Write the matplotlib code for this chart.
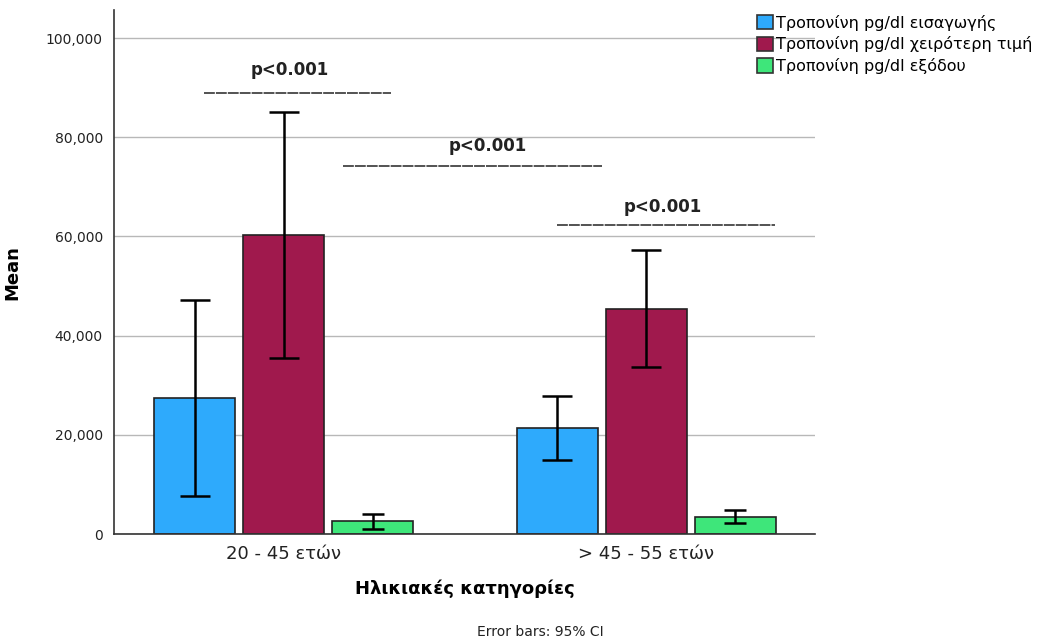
import numpy as np
import matplotlib
matplotlib.use("Agg")
import matplotlib.pyplot as plt
from matplotlib.patches import Patch

plt.rcParams['font.family'] = ['DejaVu Sans']

groups = ['20 - 45 ετών', '> 45 - 55 ετών']
series = ['Τροπονίνη pg/dl εισαγωγής', 'Τροπονίνη pg/dl χειρότερη τιμή', 'Τροπονίνη pg/dl εξόδου']
colors = ['#2EAAFC', '#A0194D', '#3EE67A']

means = [[27400, 21400],
         [60300, 45400],
         [2600, 3400]]
ci_low = [[7700, 14900],
          [35500, 33700],
          [1000, 2200]]
ci_high = [[47200, 27800],
           [85100, 57300],
           [4000, 4800]]

# p-value annotations: (text x, text y), (line x0, line x1, line y)
p_labels = ['p<0.001', 'p<0.001', 'p<0.001']
p_text_pos = [(0.018, 93500), (0.564, 78200), (1.047, 65900)]
p_line = [(-0.22, 0.295, 89000), (0.163, 0.878, 74300), (0.753, 1.355, 62300)]

fig = plt.figure(figsize=(10.51, 6.42), dpi=100)
ax = fig.add_axes([0.1085, 0.168, 0.667, 0.816])

x = np.arange(len(groups))
width = 0.2234
step = 0.2455
caps = [11, 11, 8]
for i in range(len(series)):
    xs = x + (i - 1) * step
    m = np.array(means[i])
    lo = m - np.array(ci_low[i])
    hi = np.array(ci_high[i]) - m
    ax.bar(xs, m, width, color=colors[i], edgecolor='#222222', linewidth=1.2, zorder=2)
    ax.errorbar(xs, m, yerr=[lo, hi], fmt='none', ecolor='black', elinewidth=1.8,
                capsize=caps[i], capthick=1.8, zorder=3)

for (tx, ty), (x0, x1, ly), lab in zip(p_text_pos, p_line, p_labels):
    ax.text(tx, ty, lab, ha='center', va='center', fontsize=12, fontweight='bold', color='#222222')
    ax.plot([x0, x1], [ly, ly], color='#444444', lw=1.3, dashes=(6, 0.6), zorder=3)

ax.set_xlim(-0.4676, 1.466)
ax.set_ylim(0, 105600)
ax.set_yticks([0, 20000, 40000, 60000, 80000, 100000])
ax.set_yticklabels(['0', '20,000', '40,000', '60,000', '80,000', '100,000'], fontsize=10, color='#222222')
ax.set_xticks(x)
ax.set_xticklabels(groups, fontsize=13, color='#222222')
ax.tick_params(axis='both', length=0, pad=8)
ax.yaxis.grid(True, color='#b8b8b8', lw=1)
ax.set_axisbelow(True)
for s in ['top', 'right']:
    ax.spines[s].set_visible(False)
ax.spines['left'].set_color('#333333')
ax.spines['bottom'].set_color('#333333')
ax.spines['left'].set_linewidth(1.2)
ax.spines['bottom'].set_linewidth(1.2)

ax.set_ylabel('Mean', fontsize=13, fontweight='bold', labelpad=18)
ax.set_xlabel('Ηλικιακές κατηγορίες', fontsize=13, fontweight='bold', labelpad=12)

handles = [Patch(facecolor=c, edgecolor='#333333', linewidth=1.2) for c in colors]
fig.legend(handles, series, loc='upper left', bbox_to_anchor=(0.714, 0.987), frameon=False,
           fontsize=11.5, handlelength=1.0, handleheight=1.0, handletextpad=0.2,
           labelspacing=0.35, borderaxespad=0)

fig.text(0.514, 0.004, 'Error bars: 95% CI', ha='center', va='bottom', fontsize=10, color='#222222')

fig.savefig('out.png', dpi=100)
